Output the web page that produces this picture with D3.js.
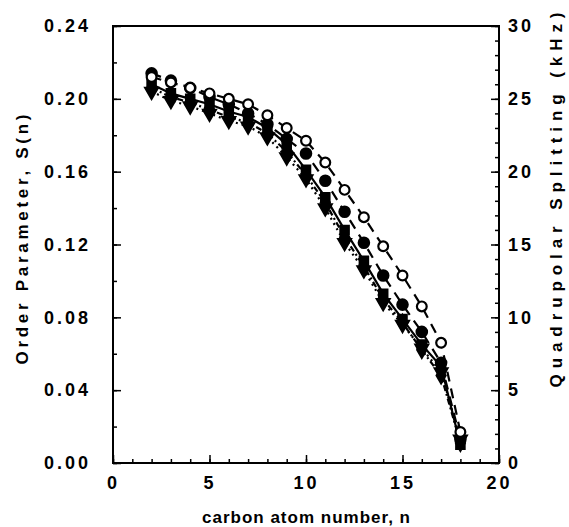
<!DOCTYPE html>
<html>
<head>
<meta charset="utf-8">
<script src="https://cdn.jsdelivr.net/npm/d3@7"></script>
<style>
  body { margin: 0; background: #fff; }
  text { font-family: "Liberation Sans", Arial, sans-serif; font-weight: bold; fill: #000; }
</style>
</head>
<body>
<div id="chart"></div>
<script>
// carbon positions
const carbons = [2, 3, 4, 5, 6, 7, 8, 9, 10, 11, 12, 13, 14, 15, 16, 17, 18]

// order parameter per series
const openCircles   = [0.212, 0.209, 0.206, 0.203, 0.200, 0.197, 0.191, 0.184, 0.177, 0.165, 0.150, 0.135, 0.119, 0.103, 0.086, 0.066, 0.017]
const filledCircles = [0.214, 0.210, 0.206, 0.201, 0.197, 0.192, 0.186, 0.178, 0.170, 0.155, 0.138, 0.121, 0.103, 0.087, 0.072, 0.055, 0.013]
const filledSquares = [0.208, 0.203, 0.200, 0.197, 0.193, 0.190, 0.184, 0.175, 0.161, 0.146, 0.128, 0.111, 0.093, 0.079, 0.065, 0.053, 0.010]
const triangles     = [0.204, 0.199, 0.196, 0.192, 0.188, 0.185, 0.179, 0.168, 0.156, 0.140, 0.121, 0.106, 0.088, 0.076, 0.063, 0.050, 0.013]
const diamonds      = [0.206, 0.201, 0.198, 0.194, 0.190, 0.187, 0.181, 0.171, 0.158, 0.143, 0.124, 0.108, 0.090, 0.077, 0.062, 0.048, 0.011]

// tick labels
const xTicks = [0, 5, 10, 15, 20]
const yTicks = [0.00, 0.04, 0.08, 0.12, 0.16, 0.20, 0.24]
const kTicks = [0, 5, 10, 15, 20, 25, 30]

const dimensions = {
    width: 569,
    height: 527,
    margin: { top: 26, right: 70, bottom: 64, left: 113 },
}
const ctrW = dimensions.width - dimensions.margin.left - dimensions.margin.right
const ctrH = dimensions.height - dimensions.margin.top - dimensions.margin.bottom

const svg = d3.select('#chart')
    .append('svg')
    .attr('width', dimensions.width)
    .attr('height', dimensions.height)

const ctr = svg.append('g')
    .attr('transform', `translate(${dimensions.margin.left}, ${dimensions.margin.top})`)

// scales
const xScale = d3.scaleLinear().domain([0, 20]).range([0, ctrW])
const yScale = d3.scaleLinear().domain([0, 0.24]).range([ctrH, 0])
const kScale = d3.scaleLinear().domain([0, 30]).range([ctrH, 0])

const fontSize = 18

// minor ticks (short, no labels), then major ticks with labels
ctr.append('g')
    .attr('transform', `translate(0, ${ctrH})`)
    .call(d3.axisBottom(xScale).tickValues(d3.range(0, 21, 1)).tickSize(-4).tickSizeOuter(0).tickFormat(''))
ctr.append('g')
    .attr('transform', `translate(0, ${ctrH})`)
    .call(d3.axisBottom(xScale).tickValues(xTicks).tickSize(-8).tickSizeOuter(0).tickPadding(13))

ctr.append('g')
    .call(d3.axisLeft(yScale).tickValues(d3.range(0, 0.241, 0.02)).tickSize(-4).tickSizeOuter(0).tickFormat(''))
ctr.append('g')
    .call(d3.axisLeft(yScale).tickValues(yTicks).tickSize(-8).tickSizeOuter(0).tickPadding(22).tickFormat(d3.format('.2f')))

ctr.append('g')
    .attr('transform', `translate(${ctrW}, 0)`)
    .call(d3.axisRight(kScale).tickValues(d3.range(0, 31, 1)).tickSize(-4).tickSizeOuter(0).tickFormat(''))
ctr.append('g')
    .attr('transform', `translate(${ctrW}, 0)`)
    .call(d3.axisRight(kScale).tickValues(kTicks).tickSize(-8).tickSizeOuter(0).tickPadding(9))

ctr.selectAll('.tick line').attr('stroke', '#000').attr('stroke-width', 1.5)
ctr.selectAll('.domain').remove()
ctr.selectAll('.tick text')
    .style('font-size', fontSize + 'px')
    .style('letter-spacing', '3px')

// frame
ctr.append('rect')
    .attr('width', ctrW)
    .attr('height', ctrH)
    .attr('fill', 'none')
    .attr('stroke', '#000')
    .attr('stroke-width', 2)

// series
const series = [
    { values: triangles, dash: '2,4', symbol: d3.symbolTriangle, fill: '#000', rot: 180, size: 70 },
    { values: diamonds, dash: '6,3,2,3', symbol: d3.symbolDiamond, fill: '#000', rot: 0, size: 70 },
    { values: filledSquares, dash: null, symbol: d3.symbolSquare, fill: '#000', rot: 0, size: 70 },
    { values: filledCircles, dash: '10,7', symbol: d3.symbolCircle, fill: '#000', rot: 0, size: 85 },
    { values: openCircles, dash: '10,7', symbol: d3.symbolCircle, fill: '#fff', rot: 0, size: 75 },
]

const line = d3.line()
    .x((d, i) => xScale(carbons[i]))
    .y(d => yScale(d))

series.forEach(s => {
    ctr.append('path')
        .datum(s.values)
        .attr('d', line)
        .attr('fill', 'none')
        .attr('stroke', '#000')
        .attr('stroke-width', 2.2)
        .attr('stroke-dasharray', s.dash)
})

series.forEach(s => {
    ctr.append('g')
        .selectAll('path')
        .data(s.values)
        .join('path')
        .attr('d', d3.symbol().type(s.symbol).size(s.size))
        .attr('transform', (d, i) => `translate(${xScale(carbons[i])}, ${yScale(d)}) rotate(${s.rot})`)
        .attr('fill', s.fill)
        .attr('stroke', '#000')
        .attr('stroke-width', 2.2)
})

// axis titles
svg.append('text')
    .attr('x', dimensions.margin.left + ctrW / 2)
    .attr('y', 523)
    .attr('text-anchor', 'middle')
    .style('font-size', '17px')
    .attr('textLength', 208)
    .attr('lengthAdjust', 'spacing')
    .text('carbon atom number, n')

svg.append('text')
    .attr('transform', `translate(28, ${dimensions.margin.top + ctrH / 2 - 5}) rotate(-90)`)
    .attr('text-anchor', 'middle')
    .style('font-size', '17px')
    .attr('textLength', 250)
    .attr('lengthAdjust', 'spacing')
    .text('Order Parameter, S(n)')

svg.append('text')
    .attr('transform', `translate(562, 200) rotate(-90)`)
    .attr('text-anchor', 'middle')
    .style('font-size', '17px')
    .attr('textLength', 375)
    .attr('lengthAdjust', 'spacing')
    .text('Quadrupolar Splitting (kHz)')
</script>
</body>
</html>
